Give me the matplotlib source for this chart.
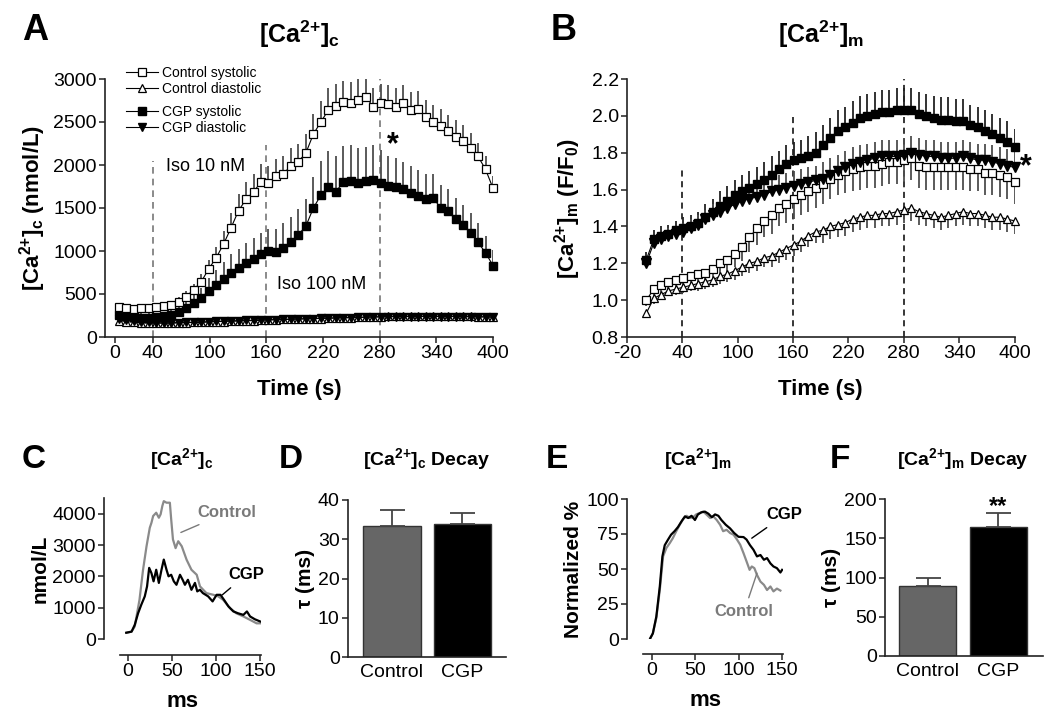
import numpy as np
import matplotlib
matplotlib.use('Agg')
import matplotlib.pyplot as plt

plt.rcParams['font.family'] = ['Liberation Sans', 'DejaVu Sans']
plt.rcParams['mathtext.fontset'] = 'custom'
plt.rcParams['mathtext.rm'] = 'Liberation Sans'
plt.rcParams['mathtext.bf'] = 'Liberation Sans:bold'
plt.rcParams['mathtext.it'] = 'Liberation Sans:italic'
plt.rcParams['axes.unicode_minus'] = False

# ---------------- data ----------------
# panel A, cytosolic Ca (nmol/L)
tA = np.linspace(4, 400, 51)
ctl_sys_A = [350, 340, 330, 335, 340, 350, 360, 375, 410, 470, 550, 640, 790, 920, 1080,
             1270, 1470, 1600, 1690, 1800, 1790, 1870, 1900, 1990, 2040, 2140, 2360, 2500,
             2640, 2690, 2730, 2720, 2760, 2790, 2680, 2720, 2710, 2670, 2720, 2640, 2650,
             2560, 2500, 2450, 2390, 2330, 2280, 2200, 2100, 1950, 1730]
ctl_sys_A_err = [40, 40, 40, 40, 40, 40, 40, 45, 50, 60, 70, 90, 110, 130, 150, 170, 190,
                 200, 200, 210, 200, 200, 210, 210, 210, 220, 230, 240, 250, 250, 250, 250,
                 240, 230, 220, 220, 220, 220, 210, 210, 210, 200, 200, 200, 190, 190, 180,
                 170, 160, 150, 140]
cgp_sys_A = [260, 240, 230, 225, 225, 230, 240, 260, 290, 340, 390, 450, 540, 610, 680,
             750, 800, 860, 910, 960, 1000, 990, 1040, 1110, 1190, 1290, 1500, 1650, 1740,
             1690, 1800, 1810, 1790, 1810, 1830, 1790, 1760, 1750, 1720, 1680, 1640, 1610,
             1620, 1500, 1460, 1370, 1300, 1210, 1100, 980, 830]
cgp_sys_A_err = [50, 50, 50, 50, 50, 50, 55, 60, 70, 80, 100, 120, 150, 170, 190, 210, 220,
                 230, 240, 250, 260, 270, 280, 290, 300, 320, 360, 400, 420, 420, 420, 420,
                 410, 400, 400, 380, 350, 330, 320, 310, 300, 290, 280, 270, 260, 250, 240,
                 230, 220, 200, 180]
ctl_dia_A = [190, 180, 170, 165, 160, 160, 160, 160, 165, 165, 170, 170, 175, 180, 180, 185,
             185, 190, 190, 195, 200, 200, 205, 205, 210, 210, 215, 215, 220, 220, 225, 225,
             230, 230, 235, 235, 240, 240, 240, 240, 240, 240, 240, 240, 240, 240, 240, 240,
             235, 235, 230]
cgp_dia_A = [210, 195, 185, 175, 170, 168, 165, 165, 168, 170, 172, 175, 178, 182, 185, 188,
             190, 193, 195, 198, 200, 203, 205, 208, 210, 213, 215, 218, 220, 222, 224, 226,
             228, 230, 232, 234, 235, 236, 237, 238, 238, 238, 238, 238, 238, 237, 236, 235,
             234, 233, 232]

# panel B, mitochondrial Ca (F/F0)
tB = np.linspace(1, 400, 51)
ctl_sys_B = [1.00, 1.06, 1.08, 1.10, 1.11, 1.12, 1.13, 1.14, 1.15, 1.17, 1.20, 1.22, 1.25,
             1.29, 1.34, 1.39, 1.43, 1.46, 1.50, 1.52, 1.55, 1.57, 1.59, 1.61, 1.63, 1.66,
             1.68, 1.70, 1.71, 1.72, 1.73, 1.73, 1.74, 1.75, 1.75, 1.76, 1.77, 1.73, 1.72,
             1.72, 1.72, 1.72, 1.72, 1.72, 1.71, 1.71, 1.69, 1.69, 1.68, 1.67, 1.64]
ctl_sys_B_err = [0.03, 0.04, 0.04, 0.04, 0.04, 0.05, 0.05, 0.05, 0.05, 0.06, 0.06, 0.07, 0.07,
                 0.08, 0.08, 0.09, 0.09, 0.10, 0.10, 0.10, 0.11, 0.11, 0.11, 0.11, 0.11, 0.11,
                 0.11, 0.12, 0.12, 0.12, 0.12, 0.12, 0.12, 0.12, 0.12, 0.12, 0.12, 0.12, 0.12,
                 0.12, 0.12, 0.12, 0.12, 0.12, 0.12, 0.12, 0.12, 0.12, 0.12, 0.12, 0.12]
cgp_sys_B = [1.22, 1.33, 1.35, 1.36, 1.38, 1.39, 1.40, 1.42, 1.45, 1.48, 1.51, 1.54, 1.57,
             1.59, 1.61, 1.63, 1.65, 1.68, 1.71, 1.74, 1.76, 1.77, 1.78, 1.80, 1.84, 1.88,
             1.92, 1.94, 1.96, 1.99, 2.00, 2.01, 2.02, 2.02, 2.03, 2.03, 2.03, 2.01, 2.00,
             1.99, 1.98, 1.98, 1.97, 1.97, 1.95, 1.94, 1.92, 1.90, 1.88, 1.86, 1.83]
cgp_sys_B_err = [0.04, 0.05, 0.05, 0.05, 0.05, 0.06, 0.06, 0.06, 0.07, 0.07, 0.08, 0.08, 0.08,
                 0.09, 0.09, 0.09, 0.10, 0.10, 0.10, 0.10, 0.10, 0.10, 0.11, 0.11, 0.11, 0.11,
                 0.11, 0.11, 0.12, 0.12, 0.12, 0.12, 0.12, 0.12, 0.12, 0.12, 0.12, 0.12, 0.12,
                 0.12, 0.12, 0.12, 0.12, 0.12, 0.11, 0.11, 0.11, 0.11, 0.11, 0.11, 0.10]
ctl_dia_B = [0.93, 1.01, 1.03, 1.05, 1.06, 1.07, 1.08, 1.09, 1.10, 1.11, 1.13, 1.14, 1.16,
             1.18, 1.20, 1.21, 1.23, 1.24, 1.26, 1.28, 1.30, 1.32, 1.35, 1.37, 1.38, 1.40,
             1.41, 1.42, 1.44, 1.45, 1.46, 1.46, 1.47, 1.47, 1.48, 1.49, 1.50, 1.48, 1.47,
             1.46, 1.45, 1.46, 1.47, 1.48, 1.47, 1.47, 1.46, 1.45, 1.45, 1.44, 1.43]
ctl_dia_B_err = [0.02, 0.03, 0.03, 0.03, 0.03, 0.03, 0.03, 0.04, 0.04, 0.04, 0.04, 0.04, 0.05,
                 0.05, 0.05, 0.05, 0.05, 0.06, 0.06, 0.06, 0.06, 0.06, 0.06, 0.06, 0.07, 0.07,
                 0.07, 0.07, 0.07, 0.07, 0.07, 0.07, 0.07, 0.07, 0.07, 0.07, 0.07, 0.07, 0.07,
                 0.07, 0.07, 0.07, 0.07, 0.07, 0.07, 0.07, 0.07, 0.07, 0.07, 0.07, 0.07]
cgp_dia_B = [1.20, 1.31, 1.33, 1.35, 1.36, 1.37, 1.39, 1.41, 1.44, 1.46, 1.48, 1.50, 1.52,
             1.54, 1.55, 1.56, 1.57, 1.59, 1.60, 1.61, 1.62, 1.63, 1.64, 1.65, 1.66, 1.68,
             1.70, 1.72, 1.74, 1.75, 1.76, 1.77, 1.78, 1.78, 1.78, 1.79, 1.80, 1.79, 1.78,
             1.78, 1.77, 1.77, 1.77, 1.78, 1.77, 1.76, 1.76, 1.75, 1.74, 1.73, 1.72]
cgp_dia_B_err = [0.03, 0.04, 0.04, 0.04, 0.04, 0.05, 0.05, 0.05, 0.05, 0.06, 0.06, 0.06, 0.07,
                 0.07, 0.07, 0.07, 0.08, 0.08, 0.08, 0.08, 0.08, 0.08, 0.08, 0.08, 0.09, 0.09,
                 0.09, 0.09, 0.09, 0.09, 0.09, 0.09, 0.09, 0.09, 0.09, 0.09, 0.09, 0.09, 0.09,
                 0.09, 0.09, 0.09, 0.09, 0.09, 0.09, 0.09, 0.09, 0.09, 0.09, 0.09, 0.09]

# panel C, single transients (ms, nmol/L)
tC_ctl = [-2, 4, 7.6, 13, 17, 21, 24.7, 26.6, 28.5, 32, 35, 37, 39, 40.6, 43.7, 47.5, 49, 51,
          54, 57, 61, 66.5, 72, 78, 81.7, 89, 97, 102.5, 108, 116, 123, 131, 138.6, 146, 150]
cC_ctl = [200, 235, 400, 1250, 2200, 2960, 3550, 3710, 3925, 4030, 3870, 3980, 4250, 4400,
          4350, 4350, 3820, 3180, 2900, 3120, 2960, 2530, 2210, 2050, 1680, 1465, 1410, 1360,
          1250, 980, 820, 720, 610, 500, 500]
tC_cgp = [-2, 4, 7.6, 11.4, 15, 19, 21.6, 24, 26.6, 29, 32, 35, 38, 40.6, 43.7, 46, 49, 52,
          55, 59, 62, 64.6, 68, 72, 76, 78.6, 81.7, 85, 91, 96, 100.6, 105, 109, 114, 119.6,
          125, 131, 135, 138.6, 144, 150]
cC_cgp = [200, 235, 450, 820, 1090, 1360, 1680, 2270, 2100, 1840, 2210, 1790, 2210, 2535,
          2210, 2000, 2050, 1840, 1730, 2050, 1890, 1730, 1890, 1570, 1790, 1520, 1570, 1465,
          1360, 1200, 1410, 1410, 1250, 1040, 880, 820, 770, 880, 720, 630, 560]

# panel E, normalized mitochondrial transients (%)
tE_cgp = [-2, 1, 5, 9, 12, 14.7, 18.5, 22, 26, 30, 34, 38, 41.7, 45.6, 49.5, 53, 57, 61, 65,
          69, 72.7, 76.5, 80, 85, 90, 94.7, 99.7, 105.5, 109, 113, 117, 121, 125, 129, 132.6,
          136.5, 140, 144, 148, 150]
nE_cgp = [0.5, 4, 16, 37.5, 59, 67, 71, 74.5, 77, 80, 84, 87.6, 86.4, 88, 85, 89, 90.5, 91,
          89.5, 87, 89, 88, 85, 81.6, 79, 75.7, 73, 72.8, 71, 67, 63.7, 59, 60, 56.6, 57.8,
          54, 51.8, 50.6, 47.5, 49.4]
tE_ctl = [-2, 1, 5, 9, 12.8, 16.6, 20.5, 24, 28, 32, 36, 40, 43.7, 47.5, 51, 55, 59, 63, 67,
          70.7, 74.6, 78.5, 82, 86, 90, 94, 98, 101.7, 105.5, 109, 112.5, 115, 118, 121, 125,
          129, 132.6, 136.5, 140, 144, 148]
nE_ctl = [0.5, 4, 15, 35, 59, 65, 68.5, 72, 77, 81.6, 85.7, 88, 86.4, 87, 89, 90, 91, 88.8,
          86.4, 87.6, 85, 81.6, 77, 78, 75.7, 74.5, 71, 67.3, 61.3, 55.4, 49.4, 51.8, 50.6,
          45.8, 41, 38.7, 35, 37.5, 34, 36, 34.6]

# panels D and F, decay time constants
groups = ['Control', 'CGP']
tau_c = [33.5, 33.8]
tau_c_err = [4.0, 3.0]
tau_m = [89, 164]
tau_m_err = [10, 18]

# ---------------- figure ----------------
W, H = 1050, 719
fig = plt.figure(figsize=(W / 100, H / 100), dpi=100)


def px_axes(left, right, bottom, top):
    return fig.add_axes([left / W, 1 - bottom / H, (right - left) / W, (bottom - top) / H])


def style(ax, ticksize=14):
    for s in ['top', 'right']:
        ax.spines[s].set_visible(False)
    for s in ['left', 'bottom']:
        ax.spines[s].set_linewidth(1.2)
        ax.spines[s].set_color('#222222')
    ax.tick_params(direction='out', length=4, width=1.1, labelsize=ticksize, color='#222222', pad=2)


def ca_label(sub, extra=''):
    return r'$\mathbf{[Ca^{2{+}}]_{' + sub + '}}$' + extra


GRAY = '#4d4d4d'

# ---- A ----
axA = px_axes(105, 493, 337, 79)
style(axA)
axA.set_xlim(-10.6, 400)
axA.set_ylim(0, 3000)
axA.set_xticks([0, 40, 100, 160, 220, 280, 340, 400])
axA.set_yticks([0, 500, 1000, 1500, 2000, 2500, 3000])
for xv, top in [(40, 2050), (160, 2230), (280, 3000)]:
    axA.plot([xv, xv], [0, top], ls=(0, (4, 3)), color='#777777', lw=1.2, zorder=1)
axA.errorbar(tA, ctl_sys_A, yerr=[np.zeros(len(tA)), ctl_sys_A_err], fmt='none',
             ecolor=GRAY, elinewidth=1.3, zorder=2)
axA.errorbar(tA, cgp_sys_A, yerr=[np.zeros(len(tA)), cgp_sys_A_err], fmt='none',
             ecolor=GRAY, elinewidth=1.3, zorder=2)
l1, = axA.plot(tA, ctl_sys_A, '-s', color='black', lw=0.8, ms=5.5, mfc='white', mec='black',
               mew=0.9, label='Control systolic', zorder=4, clip_on=False)
l2, = axA.plot(tA, ctl_dia_A, '-^', color='black', lw=0.8, ms=5.5, mfc='white', mec='black',
               mew=0.9, label='Control diastolic', zorder=3, clip_on=False)
l3, = axA.plot(tA, cgp_sys_A, '-s', color='black', lw=0.8, ms=5.5, mfc='black', mec='black',
               label='CGP systolic', zorder=3, clip_on=False)
l4, = axA.plot(tA, cgp_dia_A, '-v', color='black', lw=0.8, ms=5.5, mfc='black', mec='black',
               label='CGP diastolic', zorder=3, clip_on=False)
leg_kw = dict(loc='upper left', frameon=False, fontsize=10, handlelength=2.3, handletextpad=0.3,
              labelspacing=0.15, borderpad=0.1, borderaxespad=0)
leg1 = axA.legend(handles=[l1, l2], bbox_to_anchor=(0.05, 1.055), **leg_kw)
axA.add_artist(leg1)
axA.legend(handles=[l3, l4], bbox_to_anchor=(0.05, 0.905), **leg_kw)
axA.text(96, 1977, 'Iso 10 nM', fontsize=13, ha='center', va='center')
axA.text(219, 605, 'Iso 100 nM', fontsize=13, ha='center', va='center')
axA.text(294, 2230, '*', fontsize=22, fontweight='bold', ha='center', va='center')
axA.set_xlabel('Time (s)', fontsize=16, fontweight='bold', labelpad=12)
axA.set_ylabel(ca_label('c', ' (nmol/L)'), fontsize=16, fontweight='bold', labelpad=4)
axA.set_title(ca_label('c'), fontsize=18, fontweight='bold', pad=26)
fig.text(35 / W, 1 - 30 / H, 'A', fontsize=26, fontweight='bold', ha='center', va='center')

# ---- B ----
axB = px_axes(627, 1014.5, 337, 79)
style(axB)
axB.set_xlim(-20, 400)
axB.set_ylim(0.8, 2.2)
axB.set_xticks([-20, 40, 100, 160, 220, 280, 340, 400])
axB.set_yticks(np.arange(0.8, 2.21, 0.2))
axB.yaxis.set_major_formatter(matplotlib.ticker.FormatStrFormatter('%.1f'))
for xv, top in [(40, 1.72), (160, 2.0), (280, 2.2)]:
    axB.plot([xv, xv], [0.8, top], ls=(0, (4, 3)), color='black', lw=1.1, zorder=1)
axB.errorbar(tB, ctl_sys_B, yerr=[ctl_sys_B_err, np.zeros(len(tB))], fmt='none',
             ecolor=GRAY, elinewidth=1.3, zorder=2)
axB.errorbar(tB, ctl_dia_B, yerr=[ctl_dia_B_err, np.zeros(len(tB))], fmt='none',
             ecolor=GRAY, elinewidth=1.3, zorder=2)
axB.errorbar(tB, cgp_sys_B, yerr=[np.zeros(len(tB)), cgp_sys_B_err], fmt='none',
             ecolor='#222222', elinewidth=1.3, zorder=2)
axB.errorbar(tB, cgp_dia_B, yerr=[np.zeros(len(tB)), cgp_dia_B_err], fmt='none',
             ecolor=GRAY, elinewidth=1.3, zorder=2)
axB.plot(tB, ctl_dia_B, '-^', color='black', lw=0.8, ms=6, mfc='white', mec='black',
         mew=0.9, zorder=3, clip_on=False)
axB.plot(tB, ctl_sys_B, '-s', color='black', lw=0.8, ms=6, mfc='white', mec='black',
         mew=0.9, zorder=3, clip_on=False)
axB.plot(tB, cgp_dia_B, '-v', color='black', lw=0.8, ms=6.5, mfc='black', mec='black',
         zorder=4, clip_on=False)
axB.plot(tB, cgp_sys_B, '-s', color='black', lw=0.8, ms=6, mfc='black', mec='black',
         zorder=4, clip_on=False)
axB.text(412, 1.72, '*', fontsize=22, fontweight='bold', ha='center', va='center', clip_on=False)
axB.set_xlabel('Time (s)', fontsize=16, fontweight='bold', labelpad=12)
axB.set_ylabel(ca_label('m', r' (F/F$\mathbf{_0}$)'), fontsize=16, fontweight='bold', labelpad=6)
axB.set_title(ca_label('m'), fontsize=18, fontweight='bold', pad=26)
fig.text(564 / W, 1 - 30 / H, 'B', fontsize=26, fontweight='bold', ha='center', va='center')

# ---- C ----
axC = px_axes(104, 261, 639, 498)
style(axC)
axC.set_xlim(-27.3, 151)
axC.set_ylim(0, 4500)
axC.spines['bottom'].set_position(('outward', 11.5))
axC.spines['bottom'].set_bounds(-9, 151)
axC.set_xticks([0, 50, 100, 150])
axC.set_yticks([0, 1000, 2000, 3000, 4000])
axC.plot(tC_ctl, cC_ctl, color='#8a8a8a', lw=1.6)
axC.plot(tC_cgp, cC_cgp, color='black', lw=1.6)
axC.annotate('Control', xy=(60, 3400), xytext=(112, 4030), fontsize=12, fontweight='bold',
             color='#7a7a7a', ha='center', va='center',
             arrowprops=dict(arrowstyle='-', color='#7a7a7a', lw=1, shrinkA=3, shrinkB=0))
axC.annotate('CGP', xy=(107, 1408), xytext=(134, 2048), fontsize=12, fontweight='bold',
             color='black', ha='center', va='center',
             arrowprops=dict(arrowstyle='-', color='black', lw=1, shrinkA=3, shrinkB=0))
axC.set_xlabel('ms', fontsize=16, fontweight='bold', labelpad=8)
axC.set_ylabel('nmol/L', fontsize=15, fontweight='bold', labelpad=2)
fig.text(182 / W, 1 - 459 / H, ca_label('c'), fontsize=14, fontweight='bold', ha='center', va='center')
fig.text(34 / W, 1 - 460 / H, 'C', fontsize=24, fontweight='bold', ha='center', va='center')

# ---- D ----
axD = px_axes(348, 506, 657, 500)
style(axD)
axD.set_xlim(-0.624, 1.617)
axD.set_ylim(0, 40)
axD.set_yticks([0, 10, 20, 30, 40])
axD.bar([0, 1], tau_c, width=0.82, color=['#666666', 'black'], edgecolor='#333333', lw=1)
axD.errorbar([0, 1], tau_c, yerr=[[0, 0], tau_c_err], fmt='none', ecolor='#444444',
             elinewidth=1.3, capsize=9, capthick=1.3)
axD.set_xticks([0, 1])
axD.set_xticklabels(groups)
axD.tick_params(axis='x', length=0, pad=5)
axD.set_ylabel('τ (ms)', fontsize=15, fontweight='bold', labelpad=2)
fig.text(427 / W, 1 - 459 / H, ca_label('c', ' Decay'), fontsize=14, fontweight='bold',
         ha='center', va='center')
fig.text(291 / W, 1 - 460 / H, 'D', fontsize=24, fontweight='bold', ha='center', va='center')

# ---- E ----
axE = px_axes(627, 783, 639, 499)
style(axE)
axE.set_xlim(-28.8, 151)
axE.set_ylim(0, 100)
axE.spines['bottom'].set_position(('outward', 10.8))
axE.spines['bottom'].set_bounds(-10.4, 151)
axE.set_xticks([0, 50, 100, 150])
axE.set_yticks([0, 25, 50, 75, 100])
axE.plot(tE_ctl, nE_ctl, color='#8a8a8a', lw=1.6)
axE.plot(tE_cgp, nE_cgp, color='black', lw=1.6)
axE.annotate('CGP', xy=(115, 72), xytext=(153, 88.6), fontsize=12, fontweight='bold',
             color='black', ha='center', va='center', annotation_clip=False,
             arrowprops=dict(arrowstyle='-', color='black', lw=1, shrinkA=3, shrinkB=0))
axE.annotate('Control', xy=(121, 47), xytext=(106, 19.3), fontsize=12, fontweight='bold',
             color='#7a7a7a', ha='center', va='center',
             arrowprops=dict(arrowstyle='-', color='#7a7a7a', lw=1, shrinkA=3, shrinkB=0))
axE.set_xlabel('ms', fontsize=16, fontweight='bold', labelpad=8)
axE.set_ylabel('Normalized %', fontsize=15, fontweight='bold', labelpad=2)
fig.text(698 / W, 1 - 459 / H, ca_label('m'), fontsize=14, fontweight='bold', ha='center', va='center')
fig.text(557 / W, 1 - 460 / H, 'E', fontsize=24, fontweight='bold', ha='center', va='center')

# ---- F ----
axF = px_axes(885, 1043, 656, 499)
style(axF)
axF.set_xlim(-0.599, 1.627)
axF.set_ylim(0, 200)
axF.set_yticks([0, 50, 100, 150, 200])
axF.bar([0, 1], tau_m, width=0.8, color=['#666666', 'black'], edgecolor='#333333', lw=1)
axF.errorbar([0, 1], tau_m, yerr=[[0, 0], tau_m_err], fmt='none', ecolor='#444444',
             elinewidth=1.3, capsize=9, capthick=1.3)
axF.text(1, 190, '**', fontsize=17, fontweight='bold', ha='center', va='center')
axF.set_xticks([0, 1])
axF.set_xticklabels(groups)
axF.tick_params(axis='x', length=0, pad=5)
axF.set_ylabel('τ (ms)', fontsize=15, fontweight='bold', labelpad=2)
fig.text(963 / W, 1 - 459 / H, ca_label('m', ' Decay'), fontsize=14, fontweight='bold',
         ha='center', va='center')
fig.text(840 / W, 1 - 460 / H, 'F', fontsize=24, fontweight='bold', ha='center', va='center')

fig.savefig('out.png', dpi=100)
